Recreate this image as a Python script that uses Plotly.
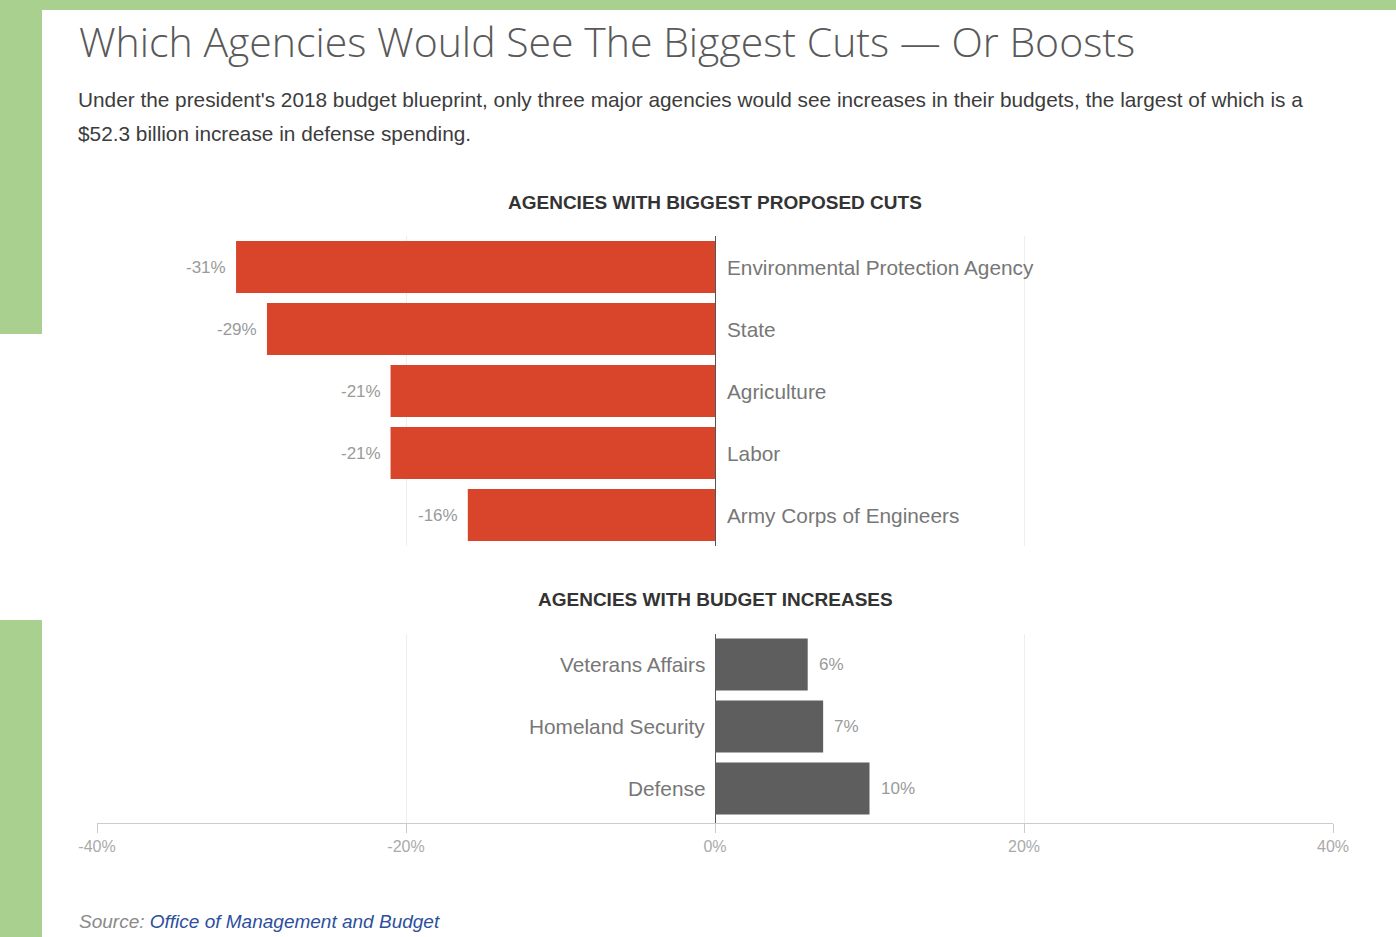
import plotly.graph_objects as go

W, H = 1396, 937

# Agencies facing cuts (percent change in proposed 2018 budget)
cut_agencies = ["Environmental Protection Agency", "State", "Agriculture", "Labor",
                "Army Corps of Engineers"]
cut_values = [-31, -29, -21, -21, -16]

# Agencies with increases
boost_agencies = ["Veterans Affairs", "Homeland Security", "Defense"]
boost_values = [6, 7, 10]

x_ticks = [-40, -20, 0, 20, 40]
x_tick_labels = ["-40%", "-20%", "0%", "20%", "40%"]

RED = "#d8452b"
GRAY_BAR = "#5e5e5e"
GREEN = "#a9d08e"
SANS = "Liberation Sans, Arial, sans-serif"


def px_x(p):
    return p / W


def px_y(p):
    return 1 - p / H


fig = go.Figure()

fig.add_trace(go.Bar(
    x=cut_values, y=cut_agencies, orientation="h",
    marker=dict(color=RED, line=dict(width=0)), width=0.84,
    xaxis="x", yaxis="y", hoverinfo="x+y", showlegend=False,
))
fig.add_trace(go.Bar(
    x=boost_values, y=boost_agencies, orientation="h",
    marker=dict(color=GRAY_BAR, line=dict(width=0)), width=0.84,
    xaxis="x2", yaxis="y2", hoverinfo="x+y", showlegend=False,
))

x_dom = [px_x(97), px_x(1333)]
common_x = dict(
    range=[-40, 40], domain=x_dom, tickvals=x_ticks, ticktext=x_tick_labels,
    showgrid=True, gridcolor="#eeeeee", gridwidth=1,
    zeroline=True, zerolinecolor="#555555", zerolinewidth=1,
    fixedrange=True, automargin=False,
)

annotations = []

# category and value labels for the cuts panel
for name, v in zip(cut_agencies, cut_values):
    annotations.append(dict(
        x=0, y=name, xref="x", yref="y", text=name, showarrow=False,
        xanchor="left", yanchor="middle", xshift=10,
        font=dict(family=SANS, size=20.8, color="#777777"),
    ))
    annotations.append(dict(
        x=v, y=name, xref="x", yref="y", text=f"{v}%", showarrow=False,
        xanchor="right", yanchor="middle", xshift=-8,
        font=dict(family=SANS, size=17, color="#9a9a9a"),
    ))

# category and value labels for the increases panel
for name, v in zip(boost_agencies, boost_values):
    annotations.append(dict(
        x=0, y=name, xref="x2", yref="y2", text=name, showarrow=False,
        xanchor="right", yanchor="middle", xshift=-8,
        font=dict(family=SANS, size=20.8, color="#777777"),
    ))
    annotations.append(dict(
        x=v, y=name, xref="x2", yref="y2", text=f"{v}%", showarrow=False,
        xanchor="left", yanchor="middle", xshift=9,
        font=dict(family=SANS, size=17, color="#9a9a9a"),
    ))

# headline, description, panel headings, source
annotations += [
    dict(x=px_x(77), y=px_y(41), xref="paper", yref="paper", xanchor="left", yanchor="middle",
         text="Which Agencies Would See The Biggest Cuts — Or Boosts", showarrow=False,
         font=dict(family="Open Sans, sans-serif", size=41, color="#595959", weight=300)),
    dict(x=px_x(76), y=px_y(100), xref="paper", yref="paper", xanchor="left", yanchor="middle",
         text="Under the president's 2018 budget blueprint, only three major agencies would see "
              "increases in their budgets, the largest of which is a",
         showarrow=False,
         font=dict(family=SANS, size=20.8, color="#3c3c3c")),
    dict(x=px_x(76), y=px_y(133), xref="paper", yref="paper", xanchor="left", yanchor="middle",
         text="$52.3 billion increase in defense spending.", showarrow=False,
         font=dict(family=SANS, size=20.8, color="#3c3c3c")),
    dict(x=px_x(715), y=px_y(202), xref="paper", yref="paper", xanchor="center", yanchor="middle",
         text="<b>AGENCIES WITH BIGGEST PROPOSED CUTS</b>", showarrow=False,
         font=dict(family=SANS, size=19, color="#333333")),
    dict(x=px_x(715), y=px_y(599), xref="paper", yref="paper", xanchor="center", yanchor="middle",
         text="<b>AGENCIES WITH BUDGET INCREASES</b>", showarrow=False,
         font=dict(family=SANS, size=19, color="#333333")),
    dict(x=px_x(77), y=px_y(921), xref="paper", yref="paper", xanchor="left", yanchor="middle",
         text="<i><span style='color:#8a8a8a'>Source:</span> "
              "<span style='color:#2d4f9e'>Office of Management and Budget</span></i>",
         showarrow=False,
         font=dict(family=SANS, size=19)),
]

# green frame around the card
shapes = [
    dict(type="rect", xref="paper", yref="paper", x0=0, x1=1, y0=px_y(10), y1=1,
         fillcolor=GREEN, line=dict(width=0), layer="below"),
    dict(type="rect", xref="paper", yref="paper", x0=0, x1=px_x(42), y0=px_y(334), y1=1,
         fillcolor=GREEN, line=dict(width=0), layer="below"),
    dict(type="rect", xref="paper", yref="paper", x0=0, x1=px_x(42), y0=0, y1=px_y(620),
         fillcolor=GREEN, line=dict(width=0), layer="below"),
]

fig.update_layout(
    width=W, height=H,
    margin=dict(l=0, r=0, t=0, b=0, autoexpand=False),
    paper_bgcolor="#ffffff", plot_bgcolor="rgba(0,0,0,0)",
    bargap=0.16,
    xaxis=dict(**common_x, anchor="y", showticklabels=False, showline=False, ticks=""),
    xaxis2=dict(**common_x, anchor="y2", showticklabels=True, showline=True,
                linecolor="#cccccc", linewidth=1, ticks="outside", ticklen=9,
                tickcolor="#cccccc", tickwidth=1,
                tickfont=dict(family=SANS, size=16, color="#aaaaaa")),
    yaxis=dict(domain=[px_y(546), px_y(236)], anchor="x", type="category",
               categoryorder="array", categoryarray=cut_agencies,
               range=[4.5, -0.5], showticklabels=False, showgrid=False,
               zeroline=False, showline=False, ticks="", fixedrange=True, automargin=False),
    yaxis2=dict(domain=[px_y(823), px_y(633.5)], anchor="x2", type="category",
                categoryorder="array", categoryarray=boost_agencies,
                range=[2.556, -0.5], showticklabels=False, showgrid=False,
                zeroline=False, showline=False, ticks="", fixedrange=True, automargin=False),
    annotations=annotations,
    shapes=shapes,
    showlegend=False,
)

fig.write_html("out.html")
